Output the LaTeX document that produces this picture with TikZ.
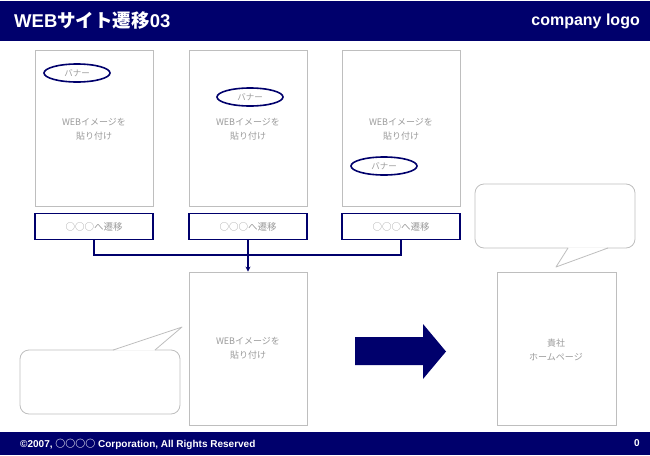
\documentclass[tikz,border=0pt]{standalone}
\usepackage{fontspec}
\setmainfont{Liberation Sans}
\newfontfamily\cjk{Noto Sans CJK JP}
\usetikzlibrary{shapes.geometric,arrows.meta}
\definecolor{navy}{RGB}{0,0,108}
\definecolor{lgray}{RGB}{190,190,190}
\definecolor{tgray}{RGB}{155,155,155}
\tikzset{
  page/.style={draw=lgray, line width=0.8pt, fill=white},
  pagetext/.style={text=tgray, font=\cjk\fontsize{9}{14}\selectfont, align=center},
  banner/.style={draw=navy, line width=1.6pt, ellipse, minimum width=66pt, minimum height=18pt, inner sep=0pt, text=tgray, font=\cjk\fontsize{8.5}{9}\selectfont},
  trans/.style={draw=navy, line width=1.8pt, text=tgray, font=\cjk\fontsize{9.5}{10}\selectfont},
  conn/.style={draw=navy, line width=1.4pt},
  bubble/.style={draw=lgray, line width=0.8pt, line join=round},
}
\begin{document}
\begin{tikzpicture}[x=1pt,y=-1pt]
\useasboundingbox (0,0) rectangle (650,455);
% header
\fill[navy] (0,1) rectangle (650,41);
\node[anchor=west, text=white, font=\bfseries\fontsize{18.5}{20}\selectfont, inner sep=0pt] (title) at (14,21) {WEB{\cjk\bfseries サイト遷移}03};
\node[anchor=east, text=white, font=\bfseries\fontsize{16}{18}\selectfont, inner sep=0pt] (logo) at (640,21) {company logo};
% footer
\fill[navy] (0,432) rectangle (650,455);
\node[anchor=west, text=white, font=\bfseries\fontsize{10}{11}\selectfont, inner sep=0pt] (copy) at (20,444) {©2007, {\cjk ○○○○} Corporation, All Rights Reserved};
\node[anchor=east, text=white, font=\bfseries\fontsize{10}{11}\selectfont, inner sep=0pt] (pnum) at (640,443) {0};

% top pages
\draw[page] (35,50) rectangle (153,206);
\draw[page] (189,50) rectangle (307,206);
\draw[page] (342,50) rectangle (460,206);
\node[pagetext] (t1) at (94,129) {WEBイメージを\\貼り付け};
\node[pagetext] (t2) at (248,129) {WEBイメージを\\貼り付け};
\node[pagetext] (t3) at (401,129) {WEBイメージを\\貼り付け};
\node[banner] (b1) at (77,73) {バナー};
\node[banner] (b2) at (250,97) {バナー};
\node[banner] (b3) at (384,166) {バナー};

% transition boxes
\node[trans, minimum width=118pt, minimum height=26pt, inner sep=0pt] (s1) at (94,226.5) {○○○へ遷移};
\node[trans, minimum width=118pt, minimum height=26pt, inner sep=0pt] (s2) at (248,226.5) {○○○へ遷移};
\node[trans, minimum width=118pt, minimum height=26pt, inner sep=0pt] (s3) at (401,226.5) {○○○へ遷移};

% middle page
\node[page, minimum width=118pt, minimum height=153pt, inner sep=0pt] (mid) at (248,348.5) {};
\node[pagetext] (tm) at (248,348) {WEBイメージを\\貼り付け};

% connectors
\coordinate (j) at (248,255);
\draw[conn] (s1.south) -- (s1.south |- j) -- (s3.south |- j) -- (s3.south);
\draw[conn] (s2.south) -- (j);
\draw[conn, -{Stealth[length=5pt,width=5pt]}] (j) -- (mid.north);

% left bubble
\draw[bubble, rounded corners=9pt] (20,350) rectangle (180,414);
\fill[white] (113.5,350.7) -- (182,327) -- (154.5,350.7) -- cycle;
\draw[bubble] (113,350) -- (182,327) -- (155,350);

% big arrow
\fill[navy] (355,337) -- (423,337) -- (423,324) -- (446,351.5) -- (423,379) -- (423,365) -- (355,365) -- cycle;

% right bubble
\draw[bubble, rounded corners=9pt] (475,184) rectangle (635,248);
\fill[white] (568.5,247.3) -- (556,267) -- (607.5,247.3) -- cycle;
\draw[bubble] (568,248) -- (556,267) -- (608,248);

% right page
\node[page, minimum width=119pt, minimum height=153pt, inner sep=0pt] (home) at (556.5,348.5) {};
\node[pagetext] (th) at (556,350) {貴社\\ホームページ};
\end{tikzpicture}
\end{document}
